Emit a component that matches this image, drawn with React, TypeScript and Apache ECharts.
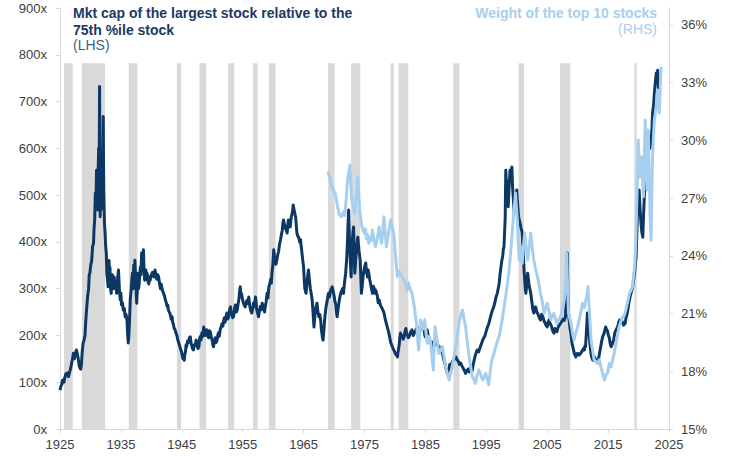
import React, { useEffect, useRef } from "react";
import * as echarts from "echarts";

// Mkt cap of the largest stock relative to the 75th %ile stock (LHS), [year, multiple]
const largestVs75th: [number, number][] = [
  [1925.0, 83], [1925.15, 92], [1925.3, 95], [1925.4, 104], [1925.5, 105], [1925.65, 100], [1925.8, 110],
  [1925.95, 118], [1926.1, 115], [1926.25, 120], [1926.4, 112], [1926.5, 118], [1926.6, 122], [1926.75, 130],
  [1926.9, 140], [1927.05, 150], [1927.2, 162], [1927.35, 150], [1927.5, 158], [1927.6, 165], [1927.7, 169],
  [1927.85, 160], [1928.0, 150], [1928.15, 135], [1928.3, 130], [1928.4, 128], [1928.5, 135], [1928.65, 165],
  [1928.8, 184], [1928.95, 190], [1929.1, 200], [1929.25, 235], [1929.4, 261], [1929.55, 285], [1929.7, 300],
  [1929.8, 330], [1929.9, 333], [1930.05, 350], [1930.2, 360], [1930.35, 390], [1930.5, 397], [1930.6, 430],
  [1930.7, 450], [1930.8, 504], [1930.9, 480], [1931.0, 553], [1931.1, 520], [1931.2, 468], [1931.28, 560],
  [1931.35, 600], [1931.42, 520], [1931.5, 732], [1931.55, 560], [1931.6, 454], [1931.68, 500], [1931.75, 520],
  [1931.82, 470], [1931.9, 575], [1932.0, 540], [1932.1, 668], [1932.15, 560], [1932.2, 504], [1932.3, 440],
  [1932.4, 420], [1932.5, 390], [1932.6, 376], [1932.7, 330], [1932.8, 320], [1932.9, 304], [1933.0, 340],
  [1933.05, 360], [1933.15, 320], [1933.2, 346], [1933.3, 300], [1933.4, 290], [1933.5, 315], [1933.6, 330],
  [1933.75, 300], [1933.9, 325], [1934.0, 305], [1934.1, 300], [1934.2, 315], [1934.3, 290], [1934.45, 320],
  [1934.6, 340], [1934.75, 300], [1934.9, 276], [1935.0, 290], [1935.1, 265], [1935.25, 270], [1935.4, 254],
  [1935.55, 258], [1935.7, 240], [1935.85, 245], [1936.0, 233], [1936.1, 205], [1936.2, 184], [1936.3, 200],
  [1936.4, 226], [1936.55, 280], [1936.7, 300], [1936.8, 320], [1936.9, 333], [1937.0, 300], [1937.1, 350],
  [1937.2, 330], [1937.3, 361], [1937.45, 310], [1937.6, 269], [1937.7, 300], [1937.8, 333], [1937.9, 300],
  [1938.0, 310], [1938.1, 330], [1938.2, 346], [1938.3, 330], [1938.4, 376], [1938.55, 350], [1938.7, 383],
  [1938.8, 340], [1938.9, 318], [1939.0, 335], [1939.1, 340], [1939.2, 320], [1939.3, 333], [1939.45, 315],
  [1939.6, 310], [1939.7, 325], [1939.8, 318], [1940.0, 330], [1940.2, 335], [1940.4, 325], [1940.6, 340],
  [1940.75, 330], [1940.9, 320], [1941.05, 330], [1941.2, 325], [1941.35, 310], [1941.5, 300], [1941.6, 310],
  [1941.7, 304], [1941.85, 295], [1942.0, 290], [1942.15, 285], [1942.3, 276], [1942.45, 270], [1942.6, 262],
  [1942.7, 265], [1942.8, 254], [1942.95, 250], [1943.1, 245], [1943.25, 235], [1943.4, 240], [1943.5, 228],
  [1943.6, 225], [1943.75, 215], [1943.9, 212], [1944.05, 205], [1944.2, 200], [1944.35, 190], [1944.5, 184],
  [1944.65, 178], [1944.8, 170], [1944.9, 168], [1945.0, 162], [1945.1, 155], [1945.2, 150], [1945.3, 158],
  [1945.4, 147], [1945.5, 160], [1945.6, 165], [1945.7, 180], [1945.8, 176], [1945.95, 188], [1946.1, 185],
  [1946.25, 195], [1946.4, 197], [1946.5, 185], [1946.6, 180], [1946.75, 172], [1946.9, 169], [1947.05, 180],
  [1947.2, 178], [1947.35, 190], [1947.5, 184], [1947.65, 172], [1947.8, 175], [1947.9, 190], [1948.0, 197],
  [1948.15, 190], [1948.3, 205], [1948.45, 198], [1948.6, 218], [1948.75, 210], [1948.9, 200], [1949.0, 210],
  [1949.1, 212], [1949.25, 200], [1949.4, 195], [1949.55, 210], [1949.7, 207], [1949.85, 195], [1950.0, 190],
  [1950.1, 180], [1950.2, 176], [1950.35, 188], [1950.5, 195], [1950.65, 185], [1950.8, 190], [1950.9, 200],
  [1951.0, 205], [1951.15, 198], [1951.3, 212], [1951.45, 218], [1951.6, 225], [1951.75, 220], [1951.9, 233],
  [1952.0, 238], [1952.1, 228], [1952.25, 240], [1952.4, 248], [1952.55, 235], [1952.7, 240], [1952.85, 255],
  [1953.0, 261], [1953.1, 245], [1953.2, 250], [1953.35, 238], [1953.5, 240], [1953.65, 258], [1953.8, 265],
  [1953.95, 250], [1954.1, 254], [1954.25, 268], [1954.4, 280], [1954.5, 295], [1954.6, 304], [1954.7, 285],
  [1954.8, 290], [1954.95, 278], [1955.1, 270], [1955.25, 265], [1955.4, 261], [1955.55, 270], [1955.7, 275],
  [1955.85, 268], [1956.0, 282], [1956.1, 270], [1956.2, 260], [1956.35, 252], [1956.5, 248], [1956.65, 258],
  [1956.8, 270], [1956.95, 262], [1957.1, 282], [1957.2, 270], [1957.3, 255], [1957.45, 248], [1957.6, 240],
  [1957.75, 252], [1957.9, 262], [1958.05, 255], [1958.2, 269], [1958.35, 262], [1958.5, 255], [1958.6, 250],
  [1958.7, 261], [1958.85, 272], [1959.0, 290], [1959.15, 280], [1959.3, 304], [1959.45, 310], [1959.6, 320],
  [1959.7, 312], [1959.8, 333], [1959.95, 350], [1960.1, 383], [1960.2, 370], [1960.3, 365], [1960.45, 352],
  [1960.6, 361], [1960.75, 372], [1960.9, 380], [1961.05, 395], [1961.2, 404], [1961.35, 415], [1961.5, 425],
  [1961.6, 440], [1961.7, 447], [1961.85, 438], [1962.0, 430], [1962.15, 425], [1962.3, 419], [1962.4, 435],
  [1962.5, 447], [1962.65, 440], [1962.8, 432], [1962.9, 445], [1963.0, 455], [1963.15, 462], [1963.3, 479],
  [1963.4, 470], [1963.5, 465], [1963.6, 458], [1963.7, 453], [1963.8, 435], [1963.9, 419], [1964.05, 412],
  [1964.2, 410], [1964.35, 400], [1964.5, 405], [1964.6, 390], [1964.7, 380], [1964.85, 362], [1965.0, 346],
  [1965.1, 320], [1965.2, 300], [1965.3, 295], [1965.4, 290], [1965.5, 305], [1965.6, 320], [1965.7, 330],
  [1965.8, 340], [1965.95, 320], [1966.1, 300], [1966.25, 290], [1966.4, 276], [1966.55, 250], [1966.7, 218],
  [1966.8, 235], [1966.9, 250], [1967.05, 262], [1967.2, 269], [1967.35, 250], [1967.5, 240], [1967.65, 245],
  [1967.8, 233], [1967.9, 215], [1968.0, 205], [1968.1, 195], [1968.2, 190], [1968.35, 215], [1968.5, 240],
  [1968.7, 262], [1968.9, 276], [1969.0, 285], [1969.1, 290], [1969.25, 282], [1969.4, 295], [1969.55, 300],
  [1969.7, 304], [1969.85, 295], [1970.0, 285], [1970.15, 272], [1970.3, 265], [1970.4, 250], [1970.5, 240],
  [1970.65, 255], [1970.8, 270], [1970.95, 282], [1971.1, 290], [1971.25, 295], [1971.4, 300], [1971.55, 290],
  [1971.7, 310], [1971.8, 322], [1971.9, 333], [1972.0, 350], [1972.1, 370], [1972.2, 400], [1972.3, 440],
  [1972.4, 468], [1972.5, 420], [1972.6, 380], [1972.7, 350], [1972.8, 325], [1972.9, 370], [1973.0, 400],
  [1973.1, 420], [1973.2, 432], [1973.3, 380], [1973.4, 333], [1973.5, 350], [1973.6, 370], [1973.75, 395],
  [1973.9, 410], [1974.0, 395], [1974.1, 380], [1974.2, 370], [1974.3, 361], [1974.4, 320], [1974.5, 290],
  [1974.65, 310], [1974.8, 330], [1975.0, 345], [1975.2, 355], [1975.35, 335], [1975.5, 325], [1975.6, 340],
  [1975.7, 333], [1975.85, 320], [1976.0, 310], [1976.15, 300], [1976.3, 290], [1976.45, 305], [1976.6, 300],
  [1976.7, 290], [1976.8, 297], [1976.95, 292], [1977.1, 285], [1977.25, 270], [1977.4, 276], [1977.6, 265],
  [1977.8, 260], [1978.0, 255], [1978.2, 248], [1978.4, 235], [1978.6, 225], [1978.8, 215], [1979.0, 205],
  [1979.15, 195], [1979.3, 185], [1979.45, 180], [1979.6, 175], [1979.7, 172], [1979.8, 169], [1979.95, 165],
  [1980.1, 160], [1980.25, 158], [1980.4, 154], [1980.55, 168], [1980.7, 180], [1980.8, 195], [1980.9, 205],
  [1981.05, 198], [1981.2, 200], [1981.35, 192], [1981.5, 197], [1981.65, 208], [1981.8, 215], [1981.9, 205],
  [1982.0, 205], [1982.2, 195], [1982.4, 200], [1982.6, 208], [1982.8, 212], [1983.0, 200], [1983.2, 205],
  [1983.45, 212], [1983.7, 218], [1983.9, 205], [1984.1, 210], [1984.3, 220], [1984.5, 226], [1984.65, 215],
  [1984.8, 212], [1984.9, 200], [1985.0, 197], [1985.15, 205], [1985.3, 212], [1985.45, 200], [1985.6, 195],
  [1985.85, 185], [1986.1, 176], [1986.3, 185], [1986.5, 190], [1986.7, 180], [1986.9, 184], [1987.1, 178],
  [1987.3, 175], [1987.55, 170], [1987.8, 162], [1988.0, 150], [1988.2, 140], [1988.4, 128], [1988.6, 119],
  [1988.75, 125], [1988.9, 128], [1989.0, 138], [1989.1, 133], [1989.3, 140], [1989.5, 145], [1989.75, 150],
  [1990.0, 154], [1990.2, 148], [1990.4, 145], [1990.6, 138], [1990.8, 141], [1991.0, 135], [1991.2, 130],
  [1991.4, 125], [1991.6, 119], [1991.8, 125], [1992.0, 128], [1992.2, 122], [1992.4, 133], [1992.55, 128],
  [1992.7, 125], [1992.85, 138], [1993.0, 147], [1993.25, 160], [1993.5, 169], [1993.75, 165], [1994.0, 175],
  [1994.2, 182], [1994.4, 190], [1994.6, 195], [1994.8, 200], [1995.0, 210], [1995.2, 218], [1995.4, 225],
  [1995.6, 235], [1995.8, 245], [1996.0, 254], [1996.2, 260], [1996.4, 270], [1996.6, 282], [1996.8, 290],
  [1996.95, 300], [1997.1, 310], [1997.25, 330], [1997.4, 346], [1997.55, 360], [1997.7, 370], [1997.8, 385],
  [1997.9, 389], [1998.0, 420], [1998.1, 450], [1998.2, 553], [1998.3, 520], [1998.4, 500], [1998.5, 530],
  [1998.6, 475], [1998.75, 520], [1998.9, 553], [1999.05, 540], [1999.2, 560], [1999.3, 520], [1999.4, 500],
  [1999.5, 480], [1999.6, 461], [1999.7, 480], [1999.8, 490], [1999.9, 470], [2000.0, 511], [2000.1, 490],
  [2000.2, 470], [2000.3, 455], [2000.4, 447], [2000.55, 440], [2000.7, 430], [2000.8, 425], [2000.9, 419],
  [2001.0, 390], [2001.1, 368], [2001.2, 340], [2001.3, 320], [2001.4, 300], [2001.5, 290], [2001.65, 310],
  [2001.8, 333], [2001.9, 320], [2002.0, 310], [2002.15, 300], [2002.3, 290], [2002.4, 280], [2002.5, 270],
  [2002.65, 255], [2002.8, 248], [2002.95, 258], [2003.1, 261], [2003.3, 250], [2003.5, 245], [2003.7, 238],
  [2003.9, 233], [2004.1, 245], [2004.3, 240], [2004.45, 232], [2004.6, 228], [2004.8, 222], [2005.0, 218],
  [2005.15, 228], [2005.3, 233], [2005.5, 225], [2005.7, 220], [2005.9, 210], [2006.1, 205], [2006.25, 215],
  [2006.4, 212], [2006.6, 208], [2006.8, 218], [2007.0, 222], [2007.2, 226], [2007.4, 230], [2007.6, 235],
  [2007.8, 232], [2008.0, 240], [2008.2, 300], [2008.3, 376], [2008.4, 280], [2008.5, 250], [2008.6, 233],
  [2008.75, 215], [2008.9, 205], [2009.05, 185], [2009.2, 176], [2009.45, 162], [2009.7, 154], [2009.85, 160],
  [2010.0, 162], [2010.25, 158], [2010.5, 162], [2010.65, 165], [2010.8, 168], [2010.95, 172], [2011.1, 169],
  [2011.2, 178], [2011.3, 176], [2011.45, 210], [2011.6, 248], [2011.75, 220], [2011.9, 200], [2012.05, 178],
  [2012.2, 160], [2012.35, 152], [2012.5, 147], [2012.7, 155], [2012.9, 150], [2013.1, 145], [2013.3, 141],
  [2013.5, 155], [2013.7, 170], [2013.9, 185], [2014.1, 197], [2014.35, 205], [2014.6, 218], [2014.75, 212],
  [2014.9, 210], [2015.05, 200], [2015.2, 195], [2015.35, 182], [2015.5, 176], [2015.7, 182], [2015.9, 190],
  [2016.1, 205], [2016.3, 212], [2016.45, 215], [2016.6, 220], [2016.75, 228], [2016.9, 233], [2017.1, 228],
  [2017.3, 230], [2017.55, 222], [2017.8, 226], [2017.95, 238], [2018.1, 245], [2018.25, 255], [2018.4, 269],
  [2018.65, 285], [2018.9, 297], [2019.05, 305], [2019.2, 320], [2019.4, 340], [2019.6, 368], [2019.75, 430],
  [2019.85, 475], [2019.95, 460], [2020.1, 511], [2020.25, 470], [2020.4, 440], [2020.55, 420], [2020.7, 410],
  [2020.8, 450], [2020.9, 483], [2021.05, 530], [2021.2, 569], [2021.35, 555], [2021.5, 560], [2021.65, 600],
  [2021.8, 618], [2021.9, 600], [2022.0, 611], [2022.1, 625], [2022.2, 640], [2022.3, 675], [2022.45, 690],
  [2022.6, 718], [2022.75, 740], [2022.9, 761], [2023.0, 745], [2023.15, 767], [2023.3, 718],
];

// Weight of the top 10 stocks (RHS), [year, %]
const top10Weight: [number, number][] = [
  [1969.0, 28.4], [1969.15, 28.2], [1969.3, 28.1], [1969.45, 27.9], [1969.6, 27.6], [1969.8, 27.5],
  [1970.0, 27.25], [1970.15, 27.3], [1970.3, 27.07], [1970.45, 26.8], [1970.6, 26.5], [1970.7, 26.4],
  [1970.8, 26.2], [1971.0, 26.1], [1971.2, 26.03], [1971.4, 26.2], [1971.6, 26.3], [1971.75, 26.1],
  [1971.9, 26.55], [1972.05, 27.2], [1972.2, 27.9], [1972.4, 28.3], [1972.6, 28.72], [1972.7, 28.0],
  [1972.8, 27.5], [1972.9, 27.0], [1973.0, 26.73], [1973.2, 26.5], [1973.4, 26.2], [1973.55, 26.8],
  [1973.7, 27.2], [1973.8, 27.7], [1973.9, 28.1], [1974.05, 27.2], [1974.2, 26.38], [1974.4, 25.9],
  [1974.6, 25.5], [1974.8, 25.3], [1975.0, 25.17], [1975.15, 25.4], [1975.3, 24.9], [1975.5, 25.1],
  [1975.7, 24.65], [1975.85, 24.9], [1976.0, 25.0], [1976.15, 24.8], [1976.3, 25.34], [1976.55, 24.9],
  [1976.8, 24.47], [1976.95, 24.7], [1977.1, 24.9], [1977.25, 25.2], [1977.4, 25.5], [1977.6, 25.0],
  [1977.8, 24.65], [1978.0, 25.3], [1978.2, 26.03], [1978.4, 25.2], [1978.6, 24.47], [1978.8, 24.9],
  [1979.0, 25.3], [1979.15, 25.6], [1979.3, 25.86], [1979.55, 25.5], [1979.8, 25.17], [1979.95, 24.6],
  [1980.1, 24.0], [1980.25, 23.4], [1980.4, 22.92], [1980.65, 23.2], [1980.9, 23.09], [1981.2, 22.9],
  [1981.5, 22.74], [1981.75, 22.5], [1982.0, 22.22], [1982.2, 22.6], [1982.4, 22.4], [1982.6, 22.2],
  [1982.8, 22.05], [1983.0, 21.7], [1983.2, 21.3], [1983.4, 20.8], [1983.6, 20.32], [1983.75, 19.6],
  [1983.9, 19.1], [1984.05, 19.9], [1984.2, 20.67], [1984.4, 20.3], [1984.6, 20.2], [1984.75, 20.5],
  [1984.9, 20.67], [1985.1, 20.0], [1985.3, 19.45], [1985.55, 19.8], [1985.8, 19.63], [1986.05, 18.9],
  [1986.3, 18.07], [1986.45, 19.3], [1986.6, 20.32], [1986.8, 19.8], [1987.0, 19.5], [1987.1, 19.1],
  [1987.2, 18.93], [1987.5, 19.1], [1987.8, 19.28], [1988.05, 18.8], [1988.3, 18.24], [1988.6, 17.9],
  [1988.9, 17.55], [1989.15, 17.9], [1989.4, 18.24], [1989.7, 18.8], [1990.0, 19.28], [1990.25, 19.9],
  [1990.5, 20.49], [1990.8, 20.9], [1991.1, 21.18], [1991.35, 20.7], [1991.6, 20.32], [1991.85, 19.6],
  [1992.1, 18.93], [1992.4, 18.3], [1992.7, 17.72], [1992.95, 17.6], [1993.2, 17.37], [1993.5, 17.8],
  [1993.8, 18.07], [1994.1, 17.8], [1994.4, 17.55], [1994.65, 17.7], [1994.9, 17.9], [1995.15, 17.6],
  [1995.4, 17.29], [1995.65, 18.0], [1995.9, 18.59], [1996.15, 18.8], [1996.4, 19.1], [1996.75, 19.5],
  [1997.1, 19.8], [1997.35, 20.2], [1997.6, 20.67], [1997.85, 21.2], [1998.1, 21.7], [1998.4, 22.4],
  [1998.7, 23.09], [1998.95, 24.0], [1999.2, 25.0], [1999.5, 26.2], [1999.8, 27.25], [1999.95, 26.5],
  [2000.1, 25.86], [2000.25, 24.7], [2000.4, 23.78], [2000.55, 24.2], [2000.7, 24.47], [2000.8, 24.0],
  [2000.9, 23.61], [2001.1, 24.5], [2001.3, 25.17], [2001.55, 24.4], [2001.8, 23.78], [2002.05, 24.5],
  [2002.3, 25.17], [2002.55, 24.4], [2002.8, 23.78], [2003.1, 23.3], [2003.4, 22.92], [2003.65, 22.5],
  [2003.9, 22.05], [2004.2, 21.6], [2004.5, 21.01], [2004.75, 21.3], [2005.0, 21.53], [2005.3, 21.1],
  [2005.6, 20.67], [2005.85, 20.9], [2006.1, 21.01], [2006.35, 20.7], [2006.6, 20.49], [2006.9, 20.7],
  [2007.2, 20.84], [2007.5, 21.2], [2007.8, 21.7], [2008.0, 22.6], [2008.2, 24.13], [2008.35, 22.3],
  [2008.5, 21.01], [2008.75, 20.7], [2009.0, 20.32], [2009.2, 19.9], [2009.4, 19.63], [2009.7, 20.0],
  [2010.0, 20.32], [2010.4, 20.9], [2010.8, 21.53], [2011.1, 21.3], [2011.35, 21.7], [2011.55, 22.0],
  [2011.7, 22.4], [2011.95, 21.0], [2012.2, 19.63], [2012.45, 19.1], [2012.7, 18.59], [2013.0, 18.5],
  [2013.3, 18.41], [2013.55, 18.6], [2013.8, 18.24], [2014.1, 17.9], [2014.4, 17.55], [2014.65, 17.8],
  [2014.9, 17.9], [2015.2, 18.4], [2015.5, 18.24], [2015.75, 18.6], [2016.0, 18.93], [2016.4, 19.6],
  [2016.8, 20.32], [2017.1, 20.6], [2017.4, 20.84], [2017.65, 20.9], [2017.9, 21.18], [2018.2, 21.6],
  [2018.5, 22.05], [2018.75, 22.2], [2019.0, 22.4], [2019.2, 23.0], [2019.4, 23.61], [2019.55, 24.8],
  [2019.7, 26.73], [2019.85, 28.5], [2019.95, 30.02], [2020.1, 28.9], [2020.2, 28.1], [2020.35, 28.8],
  [2020.5, 29.15], [2020.65, 28.0], [2020.8, 27.07], [2020.95, 29.2], [2021.1, 31.06], [2021.25, 29.0],
  [2021.4, 27.42], [2021.5, 29.0], [2021.6, 30.54], [2021.75, 28.2], [2021.9, 26.0], [2022.05, 24.8],
  [2022.15, 26.8], [2022.3, 29.15], [2022.45, 30.2], [2022.6, 31.06], [2022.75, 31.4], [2022.9, 31.75],
  [2023.0, 32.2], [2023.1, 32.62], [2023.25, 32.0], [2023.4, 31.41], [2023.55, 32.6], [2023.7, 33.83],
];

// Recession bands [start year, end year]
const recessions: [number, number][] = [
  [1925.65, 1927.1], [1928.6, 1932.4], [1936.3, 1937.7], [1944.2, 1944.9], [1947.9, 1949.0],
  [1952.6, 1953.6], [1956.7, 1957.45], [1959.3, 1960.4], [1969.0, 1970.1], [1972.8, 1974.3],
  [1979.3, 1979.8], [1980.6, 1982.2], [1989.6, 1990.6], [2000.3, 2001.2], [2007.1, 2008.8],
  [2019.3, 2019.7],
];
const recessionTop = 782; // band height on LHS scale

const rhsTicks = [15, 18, 21, 24, 27, 30, 33, 36];

const NAVY = "#0c3863";
const LIGHT = "#a6cfef";
const AXIS = "#d9d9d9";
const LABEL = "#404040";
const FONT = '"Liberation Sans", Arial, sans-serif';

export default function App() {
  const ref = useRef<HTMLDivElement>(null);
  useEffect(() => {
    if (!ref.current) return;
    const chart = echarts.init(ref.current, null, { renderer: "svg" });
    chart.setOption({
      animation: false,
      grid: { left: 60, right: 62, top: 8, bottom: 28, containLabel: false },
      xAxis: {
        type: "value",
        min: 1925,
        max: 2025,
        interval: 10,
        axisLine: { show: true, lineStyle: { color: AXIS, width: 1 } },
        axisTick: { show: true, length: 4, lineStyle: { color: AXIS } },
        splitLine: { show: false },
        axisLabel: { color: LABEL, fontSize: 13, fontFamily: FONT, margin: 9, formatter: (v: number) => String(v) },
      },
      yAxis: [
        {
          type: "value",
          min: 0,
          max: 900,
          interval: 100,
          position: "left",
          axisLine: { show: true, lineStyle: { color: AXIS } },
          axisTick: { show: true, length: 4, lineStyle: { color: AXIS } },
          splitLine: { show: false },
          axisLabel: { color: LABEL, fontSize: 13, fontFamily: FONT, margin: 13, formatter: (v: number) => v + "x" },
        },
        {
          type: "value",
          min: 15,
          max: 36.88,
          interval: 3,
          position: "right",
          axisLine: { show: true, lineStyle: { color: AXIS } },
          axisTick: { show: true, length: 4, lineStyle: { color: AXIS }, customValues: rhsTicks },
          splitLine: { show: false },
          axisLabel: {
            color: LABEL,
            fontSize: 13,
            fontFamily: FONT,
            margin: 12,
            customValues: rhsTicks,
            formatter: (v: number) => (Math.abs(v - Math.round(v)) < 0.01 ? Math.round(v) + "%" : ""),
          },
        },
      ],
      series: [
        {
          type: "custom",
          xAxisIndex: 0,
          yAxisIndex: 0,
          z: 1,
          silent: true,
          data: recessions.map(([s, e]) => [s, e]),
          encode: { x: [0, 1] },
          renderItem: (params: any, api: any) => {
            const p0 = api.coord([api.value(0), recessionTop]);
            const p1 = api.coord([api.value(1), 0]);
            return {
              type: "rect",
              shape: { x: p0[0], y: p0[1], width: p1[0] - p0[0], height: p1[1] - p0[1] },
              style: { fill: "#d9d9d9" },
            };
          },
        },
        {
          type: "line",
          yAxisIndex: 0,
          z: 3,
          data: largestVs75th,
          showSymbol: false,
          symbol: "none",
          lineStyle: { color: NAVY, width: 3, join: "round" },
        },
        {
          type: "line",
          yAxisIndex: 1,
          z: 4,
          data: top10Weight,
          showSymbol: false,
          symbol: "none",
          lineStyle: { color: LIGHT, width: 3, join: "round" },
        },
      ],
      graphic: [
        {
          type: "text",
          left: 73,
          top: 5,
          style: {
            text: "Mkt cap of the largest stock relative to the\n75th %ile stock",
            font: `bold 14px ${FONT}`,
            fill: "#1b3a62",
            lineHeight: 16.5,
          },
        },
        {
          type: "text",
          left: 73,
          top: 37,
          style: { text: "(LHS)", font: `14px ${FONT}`, fill: "#3d5f86", lineHeight: 16.5 },
        },
        {
          type: "text",
          right: 74,
          top: 5,
          style: { text: "Weight of the top 10 stocks", font: `bold 14px ${FONT}`, fill: LIGHT, lineHeight: 16.5 },
        },
        {
          type: "text",
          right: 74,
          top: 21,
          style: { text: "(RHS)", font: `14px ${FONT}`, fill: LIGHT, lineHeight: 16.5 },
        },
      ],
    });
    return () => chart.dispose();
  }, []);
  return (
    <div
      ref={ref}
      style={{ position: "fixed", left: 0, top: 0, width: 731, height: 457, background: "#fff" }}
    />
  );
}
